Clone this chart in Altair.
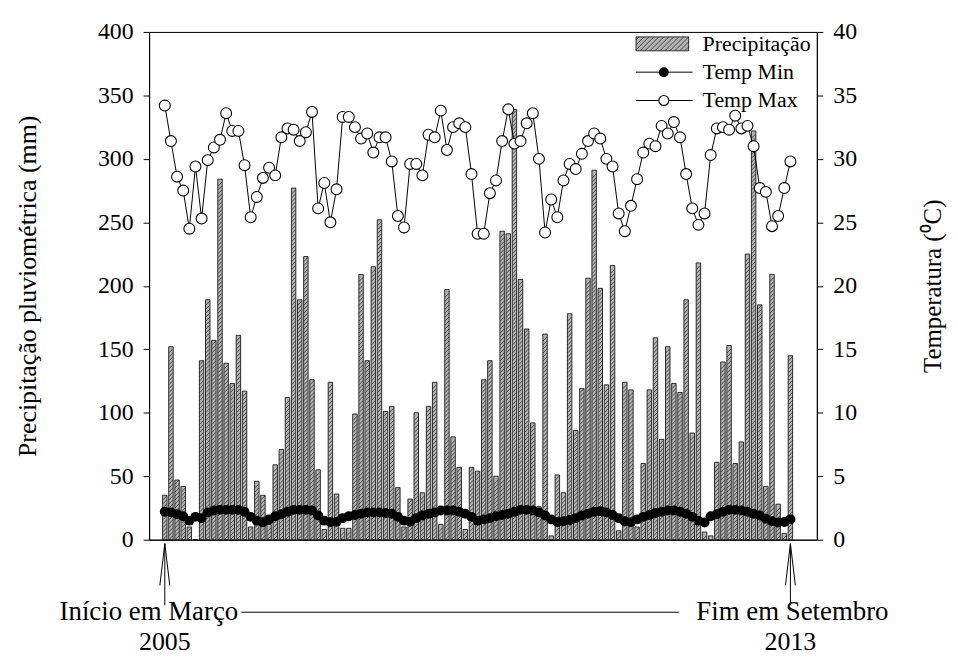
import altair as alt
import pandas as pd

# Monthly series, March 2005 .. September 2013 (103 months)
precip = [35, 152, 47, 42, 10, 0, 141, 189, 157, 284, 139, 123, 161, 117, 10, 46, 35, 12, 59, 71,
          112, 277, 189, 223, 126, 55, 8, 124, 36, 9, 9, 99, 209, 141, 215, 252, 101, 105, 41, 10,
          32, 100, 37, 105, 124, 12, 197, 81, 57, 8, 57, 54, 126, 141, 50, 243, 241, 339, 205, 166,
          92, 26, 162, 3, 51, 37, 178, 86, 119, 206, 291, 198, 122, 216, 7, 124, 118, 10, 60, 118,
          159, 79, 152, 123, 116, 189, 84, 218, 6, 3, 61, 140, 153, 60, 77, 225, 322, 185, 42, 209,
          28, 5, 145]

tmin = [2.2, 2.15, 2.0, 1.85, 1.5, 1.8, 1.7, 2.15, 2.3, 2.35, 2.35, 2.35, 2.35, 2.2, 1.8, 1.5,
        1.38, 1.6, 1.85, 2.0, 2.2, 2.35, 2.35, 2.35, 2.3, 1.9, 1.5, 1.38, 1.42, 1.7, 1.85, 1.95,
        2.05, 2.15, 2.15, 2.15, 2.1, 2.05, 1.8, 1.5, 1.42, 1.7, 1.9, 2.05, 2.15, 2.3, 2.3, 2.3,
        2.2, 2.05, 1.8, 1.5, 1.6, 1.7, 1.85, 1.95, 2.05, 2.2, 2.35, 2.35, 2.3, 2.15, 1.9, 1.6,
        1.4, 1.45, 1.55, 1.7, 1.9, 2.05, 2.2, 2.25, 2.15, 1.95, 1.7, 1.45, 1.38, 1.6, 1.8, 1.95,
        2.1, 2.2, 2.3, 2.3, 2.2, 2.05, 1.8, 1.5, 1.35, 1.85, 2.0, 2.2, 2.35, 2.35, 2.3, 2.2,
        2.05, 1.9, 1.65, 1.45, 1.35, 1.4, 1.6]

tmax = [34.2, 31.4, 28.6, 27.5, 24.5, 29.4, 25.3, 29.9, 30.9, 31.5, 33.6, 32.2, 32.2, 29.5, 25.4,
        27.0, 28.5, 29.3, 28.7, 31.7, 32.4, 32.3, 31.4, 32.1, 33.7, 26.1, 28.1, 25.0, 27.6, 33.3,
        33.3, 32.5, 31.6, 32.0, 30.5, 31.7, 31.7, 29.8, 25.5, 24.6, 29.6, 29.6, 28.7, 31.9, 31.7,
        33.8, 30.7, 32.5, 32.8, 32.5, 28.8, 24.1, 24.1, 27.3, 28.3, 31.4, 33.9, 31.2, 31.4, 32.8,
        33.6, 30.0, 24.2, 26.8, 25.4, 28.3, 29.6, 29.2, 30.4, 31.4, 32.0, 31.6, 30.0, 29.4, 25.7,
        24.3, 26.3, 28.4, 30.5, 31.2, 31.0, 32.6, 32.0, 32.9, 31.7, 28.8, 26.1, 24.8, 25.7, 30.3,
        32.4, 32.5, 32.3, 33.4, 32.4, 32.6, 31.0, 27.7, 27.4, 24.7, 25.5, 27.7, 29.8]

legend_labels = ["Precipitação", "Temp Min", "Temp Max"]
start_label = ["Início em Março", "2005"]
end_label = ["Fim em Setembro", "2013"]

n = len(precip)
df = pd.DataFrame({"mes": list(range(n)), "precip": precip, "tmin": tmin, "tmax": tmax})

W, H = 672, 511
FONT = "Liberation Serif"
BAR_FILL = "#b3b3b3"
HATCH = "#1a1a1a"

# hatch segments derived from the bar heights (style only)
step = 4.0 * 400 / H  # 4 px expressed in mm
hrows = []
for i, p in enumerate(precip):
    k = 0
    while (k + 1) * step <= p:
        hrows.append({"xl": i - 0.32, "xr": i + 0.32, "y0": k * step, "y1": (k + 1) * step})
        k += 1
hatch_df = pd.DataFrame(hrows)

xscale = alt.Scale(domain=[-1.75, 105.5], nice=False, zero=False)
xaxis = alt.Axis(labels=False, ticks=False, title=None, grid=False, domainColor="black")
xenc = alt.X("mes:Q", scale=xscale, axis=xaxis)

left_axis = alt.Axis(title="Precipitação pluviométrica (mm)", values=list(range(0, 401, 50)),
                     orient="left", grid=False, tickSize=6, labelPadding=10,
                     titlePadding=57, titleFontSize=26)
right_axis = alt.Axis(title="Temperatura (⁰C)", values=list(range(0, 41, 5)),
                      orient="right", grid=False, tickSize=6, labelPadding=10,
                      titleAngle=270, titleBaseline="top", titlePadding=64, titleFontSize=25)

pscale = alt.Scale(domain=[0, 400], nice=False)
bars = alt.Chart(df).mark_bar(size=4.5, fill=BAR_FILL, stroke="black", strokeWidth=0.8).encode(
    x=xenc,
    y=alt.Y("precip:Q", scale=pscale, axis=left_axis),
)
hatch = alt.Chart(hatch_df).mark_rule(color=HATCH, strokeWidth=0.7).encode(
    x=alt.X("xl:Q", scale=xscale, axis=xaxis), x2="xr:Q",
    y=alt.Y("y0:Q", scale=pscale, axis=left_axis), y2="y1:Q",
)
precip_layer = alt.layer(bars, hatch)

tscale = alt.Scale(domain=[0, 40], nice=False)
base_t = alt.Chart(df)
tmin_line = base_t.mark_line(color="black", strokeWidth=1).encode(
    x="mes:Q", y=alt.Y("tmin:Q", scale=tscale, axis=right_axis))
tmin_pts = base_t.mark_point(shape="circle", filled=True, fill="black", color="black",
                             size=100, opacity=1).encode(
    x="mes:Q", y=alt.Y("tmin:Q", scale=tscale, axis=right_axis))
tmax_line = base_t.mark_line(color="black", strokeWidth=1).encode(
    x="mes:Q", y=alt.Y("tmax:Q", scale=tscale, axis=right_axis))
tmax_pts = base_t.mark_point(shape="circle", filled=True, fill="white", stroke="black",
                             strokeWidth=1.1, size=120, opacity=1).encode(
    x="mes:Q", y=alt.Y("tmax:Q", scale=tscale, axis=right_axis))

temps = alt.layer(tmin_line, tmin_pts, tmax_line, tmax_pts)

# ---- legend (top right, inside plot)
leg = pd.DataFrame({"label": legend_labels, "row": [0, 1, 2]})
leg["ypix"] = 12 + 28.5 * leg["row"]
RX0, RX1, RY0, RY1 = 490, 543, 5, 19
leg_rect = alt.Chart(leg[leg.row == 0]).mark_rect(fill=BAR_FILL, stroke="black", strokeWidth=0.8).encode(
    x=alt.value(RX0), x2=alt.value(RX1), y=alt.value(RY0), y2=alt.value(RY1))
lh = []
hgt = RY1 - RY0
for s in range(RX0 - hgt + 3, RX1, 5):
    x0, y0, x1, y1 = s, RY1, s + hgt, RY0
    if x0 < RX0:
        y0 = RY1 - (RX0 - x0)
        x0 = RX0
    if x1 > RX1:
        y1 = RY0 + (x1 - RX1)
        x1 = RX1
    if x1 > x0:
        lh.append({"x0": x0, "x1": x1, "y0": y0, "y1": y1})
leg_hatch = alt.Chart(pd.DataFrame(lh)).mark_rule(color=HATCH, strokeWidth=0.7).encode(
    x=alt.X("x0:Q", scale=None), x2="x1:Q", y=alt.Y("y0:Q", scale=None), y2="y1:Q")
leg_rules = alt.Chart(leg[leg.row > 0]).mark_rule(color="black", strokeWidth=1).encode(
    x=alt.value(490), x2=alt.value(547), y=alt.Y("ypix:Q", scale=None))
leg_min = alt.Chart(leg[leg.row == 1]).mark_point(shape="circle", filled=True, fill="black",
                                                  color="black", size=100, opacity=1).encode(
    x=alt.value(518), y=alt.Y("ypix:Q", scale=None))
leg_max = alt.Chart(leg[leg.row == 2]).mark_point(shape="circle", filled=True, fill="white",
                                                  stroke="black", strokeWidth=1.1, size=100,
                                                  opacity=1).encode(
    x=alt.value(518), y=alt.Y("ypix:Q", scale=None))
leg_text = alt.Chart(leg).mark_text(align="left", baseline="middle", font=FONT, fontSize=22,
                                    color="black").encode(
    x=alt.value(557), y=alt.Y("ypix:Q", scale=None), text="label:N")

# ---- start / end annotations below the axis
ann = pd.DataFrame({"mes": [0, n - 1],
                    "line1": [start_label[0], end_label[0]],
                    "line2": [start_label[1], end_label[1]]})
shaft = alt.Chart(ann).mark_rule(color="black", strokeWidth=1).encode(
    x=alt.X("mes:Q", scale=xscale), y=alt.value(H + 4), y2=alt.value(H + 66))
barb_l = alt.Chart(ann).mark_rule(color="black", strokeWidth=1, x2Offset=-5).encode(
    x=alt.X("mes:Q", scale=xscale), x2="mes:Q", y=alt.value(H + 4), y2=alt.value(H + 46))
barb_r = alt.Chart(ann).mark_rule(color="black", strokeWidth=1, x2Offset=5).encode(
    x=alt.X("mes:Q", scale=xscale), x2="mes:Q", y=alt.value(H + 4), y2=alt.value(H + 46))
txt1_s = alt.Chart(ann[ann.mes == 0]).mark_text(font=FONT, fontSize=27, dx=-16, baseline="alphabetic",
                                                color="black").encode(
    x=alt.X("mes:Q", scale=xscale), y=alt.value(H + 81), text="line1:N")
txt1_e = alt.Chart(ann[ann.mes > 0]).mark_text(font=FONT, fontSize=27, dx=2, baseline="alphabetic",
                                               color="black").encode(
    x=alt.X("mes:Q", scale=xscale), y=alt.value(H + 81), text="line1:N")
txt2 = alt.Chart(ann).mark_text(font=FONT, fontSize=26, baseline="alphabetic", color="black").encode(
    x=alt.X("mes:Q", scale=xscale), y=alt.value(H + 111), text="line2:N")
hline = alt.Chart(ann.head(1)).mark_rule(color="black", strokeWidth=1).encode(
    x=alt.value(93), x2=alt.value(533), y=alt.value(H + 73))

main = alt.layer(precip_layer, temps).resolve_scale(y="independent")

chart = alt.layer(
    main, leg_rect, leg_hatch, leg_rules, leg_min, leg_max, leg_text,
    shaft, barb_l, barb_r, txt1_s, txt1_e, txt2, hline
).resolve_scale(y="independent").properties(
    width=W, height=H,
    autosize=alt.AutoSizeParams(type="none"),
    padding={"left": 142, "top": 22, "right": 134, "bottom": 120},
    background="white",
).configure_view(
    stroke="black", strokeWidth=1
).configure_axis(
    labelFont=FONT, labelFontSize=24, labelColor="black",
    titleFont=FONT, titleFontSize=24, titleFontWeight="normal", titleColor="black",
    tickColor="black", domainColor="black", domainWidth=1, tickWidth=1,
)

chart.save("out.html", embed_options={"renderer": "svg", "actions": False})
